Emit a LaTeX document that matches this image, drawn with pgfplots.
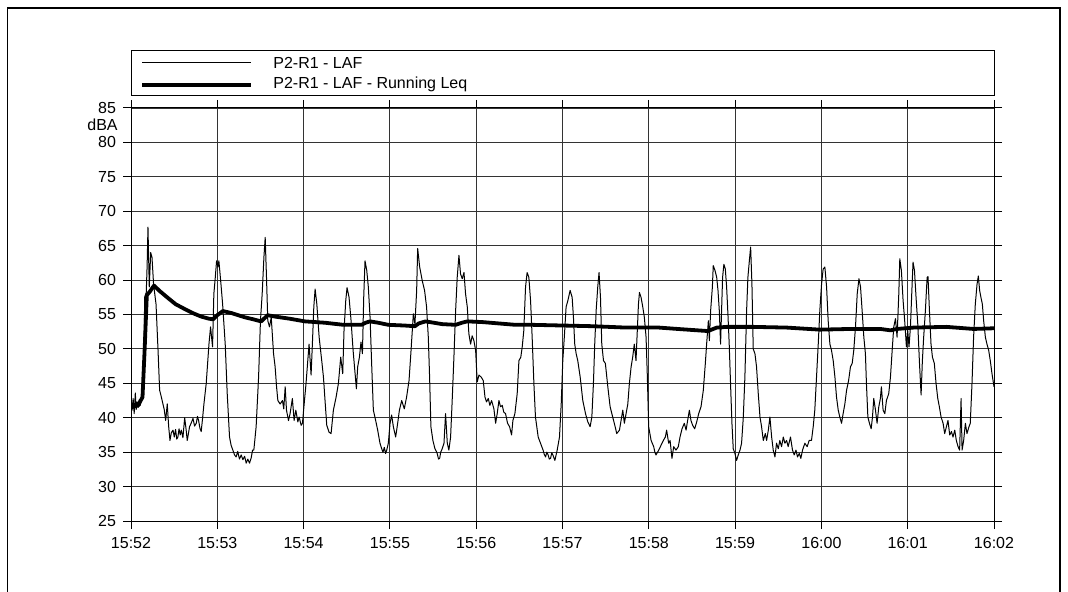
\documentclass[border=0pt]{standalone}
\usepackage{fontspec}
\setmainfont{Liberation Sans}
\usepackage{pgfplots}
\pgfplotsset{compat=1.18}
\usepackage{pgfplotstable}

\pgfplotstableread{
t v
0 41.0
0.7 41.1
1.5 42.8
2.2 40.6
3 43.6
3.6 41.2
4.3 42.3
5 41.5
5.7 42.6
6.4 41.8
7.2 43.0
8.3 43.7
9 48.5
9.5 57.5
10.6 58.2
11.2 62
11.8 67.7
12.7 59
13.7 64
14.6 63.3
15.7 59.4
17.4 56.5
18.8 49.8
19.9 44
21 43.1
22.2 42
23.1 41.2
24.1 39.6
25.2 42
26.2 38.7
27.1 36.7
28 37.8
29.2 38.2
30.1 37.2
31 38.3
31.8 36.9
32.6 37.2
33.4 38.4
34.2 37.5
35 38.2
36.1 37.1
37.3 40
38.2 38.5
39.1 36.7
40 37.8
40.7 38.7
41.8 39.2
43.1 39.9
44.2 38.8
45.4 39.2
46.2 40.2
47 39.6
47.9 38.5
48.8 38
49.8 40
50.7 42
52.3 45
54.2 50.7
55.3 53.2
56.7 50.3
57.6 58
58.6 60.4
59.5 62.8
60.4 61.9
61.1 62.8
62.3 60
63.7 56.5
65.5 50.7
66.9 43.5
68.5 37.2
69.6 36.0
70.8 35.3
72 34.6
73.1 34.3
74.2 35.1
75.4 34.0
76.6 34.6
77.8 33.9
79 34.4
80.1 33.4
81.2 34.0
82.4 33.4
83.6 34.2
84.5 35.3
85.4 35.3
87 38.7
88.7 45.9
90 54.1
91.2 58
92.4 63.3
93.3 66.2
94.2 60.4
95.1 54.1
96.3 53.2
97.5 54.6
99.1 49.3
100.2 47.4
101.2 44.5
102.1 42.5
103.7 42
105.3 42.5
106.2 41.3
107.2 44.5
108.1 41.1
109.5 39.6
110.6 40.6
112.2 42.8
113.4 39.6
114.6 41.1
116 39.4
116.9 40.1
118.3 38.9
119.2 39.2
120.6 42.5
121.7 45
122.9 48.3
123.8 50.7
125.2 46.2
126.1 50.7
127.1 56.1
128 58.7
129.2 56.5
130.8 51.7
132.6 48.3
133.8 45.9
134.9 42.5
136.1 38.9
137.7 37.9
139.1 37.7
140.7 41.1
142.6 43
144.2 45
145.8 48.8
147.2 46.4
148.1 52.7
149.3 57
150.2 58.9
151.6 57.5
153 54.1
154.4 49.8
155.8 46.4
156.7 44.2
157.6 47.4
158.8 48.8
159.9 51
160.9 49.3
161.8 57.5
162.7 62.8
163.9 61.4
165 59
166.2 54.6
167.3 47.9
168.5 41.1
170.1 39.6
171.5 38.2
173.1 36.3
174.3 35.5
175.2 35.0
176.1 35.7
177 34.8
177.8 35.3
178.9 36.3
180.1 39.2
181.2 40.4
182.4 38.7
184 37.2
185.4 39.2
186.6 41.1
188.2 42.5
190 41.3
191.6 43
193.3 45.4
194.7 49.8
196.3 55.1
197.4 53.6
198.6 58.5
199.3 64.6
200.7 61.9
202.5 59.9
204.1 58.5
205.5 56.1
206.7 51.7
207.6 45.9
208.5 38.7
209.9 36.7
211.3 35.5
212.1 35.2
212.9 34.8
213.8 34.0
214.6 34.1
215.3 35.0
216 35.3
217.6 36.3
218.7 40.6
219.9 36.3
221 35.3
222.2 37.2
223.4 43
224.5 48.8
225.7 55.6
226.8 60.4
228 63.6
229.1 60.9
230.3 60.2
231.5 61.1
232.6 58
233.8 56.1
234.9 52.2
236.1 50.7
237.2 51.9
238.4 51.2
239.6 49.8
240.7 45.2
241.9 46.2
243.5 45.9
244.9 45.4
246.1 43
247.2 42.3
248.4 42.8
249.5 41.8
250.7 42.5
252.3 41.3
253.5 39.2
254.6 40.6
255.8 42.5
256.9 41.6
258.1 41.8
259.2 40.8
260.4 40.6
261.8 39.2
263.2 38.7
264.6 37.5
265.5 39.6
266.9 40.6
268.5 43.5
269.7 48.3
271 48.8
272 50.3
273.1 52.7
274.3 59
275.4 61.1
276.6 60.4
277.8 57
278.9 51.7
280.1 45
281.2 40.1
283.1 37.2
284.7 36.3
286.5 35.3
287.3 34.7
288.2 34.3
289.1 35.0
290 34.6
290.8 34.0
291.7 34.1
292.5 34.9
293.3 34.6
294.7 33.8
296.3 35.3
297.9 37.2
299.1 42
300.2 48.3
301.4 52.2
302.5 56.1
303.7 57
305.3 58.5
306.7 57.5
307.6 54.6
308.5 50.7
309.5 49.3
310.6 48.3
312.3 45.9
314.1 42.5
316 40.6
317.6 39.4
319.2 38.7
320.4 40.1
321.5 45
322.4 50.7
323.4 55.6
324.5 59
325.4 61.1
326.4 57.5
327.3 50.7
328.5 48.3
329.8 47.9
331.5 44.5
333.1 41.6
334.9 40.1
336.6 38.7
337.7 37.7
339.6 38.2
340.7 39.6
341.9 41.1
343 39.2
344.2 40.6
345.4 42
346.5 45
347.7 47.4
348.8 48.8
349.9 50.7
351.1 48.3
351.8 51.7
352.8 56.5
353.5 58.2
354.6 57.5
355.8 56.1
356.9 54.6
358.1 51.7
359 45.9
359.9 38.7
361.6 36.7
363.4 35.8
364.2 35.0
365 34.6
366.9 35.3
368.5 36
370.1 36.7
371.5 37.2
372.4 38.2
373.8 36.3
374.8 36.7
376.1 34.1
377.3 35.8
378.9 35.3
380.5 35.8
381.7 37.2
383.1 38.4
384.7 39.2
385.9 38.2
387 39.6
388.2 41.1
389.3 39.6
390.5 38.9
391.9 38.4
393.3 39.4
394.7 40.6
396.3 41.6
397.9 44
399.3 47.9
400.2 50.7
401.4 54.1
402.1 51.2
403 55.6
404.2 59
404.8 62.1
406 61.4
407.2 60.4
408.1 58.5
409 55.6
409.9 50.7
410.6 55.6
411.3 60.4
412.2 62.3
413.2 61.6
414.1 59
415 55.1
415.9 50.7
416.9 44.5
417.8 39.2
418.7 35.5
419.9 34.8
421 33.8
422.2 34.6
423.4 35.3
424.5 36.3
425.7 40.1
426.8 45.9
428 55.6
428.9 60.4
429.9 62.8
430.8 64.8
431.7 59.4
432.6 50
433.8 49.3
434.9 47.4
436.1 43.5
437.3 40.1
438.4 38.7
439.6 36.7
441 37.7
441.9 36.7
443.1 38.2
444.2 40.1
445.4 37.2
446.5 35.3
447.7 34.3
448.8 36.3
450 35.5
451.1 36.7
452.3 35.8
453.5 37.2
454.6 36.3
455.8 36.7
456.9 35.8
458.5 37.2
459.9 35.3
461.1 34.6
462.3 35.3
463.4 34.3
464.6 34.8
465.7 34.1
466.9 35.3
468.5 36.3
470.1 35.8
471.5 36.7
473.1 36.7
474.3 38.7
475.4 41.1
476.6 45.9
477.8 50.7
478.9 55.6
480.1 59.4
481.2 61.6
482.4 61.9
483.6 59
484.7 54.1
485.9 50.7
487 49.8
488.2 48.3
489.4 45.9
490.5 43
491.7 41.1
492.8 40.1
494 39.2
495.1 40.6
496.3 42
497.5 44
498.9 45.4
500.2 47.4
501.4 47.9
502.5 49.8
503.7 53.2
504.9 58
506.1 60.2
507.2 59
508.3 55.6
509.5 51.7
510.6 49.3
511.3 45
512.3 40.1
513.4 39.2
514.6 38.4
515.5 40.1
516.4 42.8
517.6 41.1
518.7 39.2
519.9 41.6
521 42.8
521.7 44.5
522.9 41.1
524.1 40.6
525.2 42.5
526.8 43.5
528 45.9
529.2 49.8
530.3 53.2
531.5 54.4
532.6 51.7
533.8 58
534.5 63.1
535.6 61.4
536.8 57
537.9 54.1
539.1 50.3
540 52.7
540.9 50.3
541.9 53.2
542.8 58
543.7 62.6
544.7 61.4
545.8 57.5
547 53.6
548.1 48.3
549.3 43.3
550.2 48.3
551.1 51.7
552.3 55.6
553.5 60.4
554.1 60.5
555.1 55.6
556.2 50.7
557.2 48.8
558.5 47.9
559.7 45
560.9 42.8
562 41.6
563.2 40.1
564.6 39.2
565.7 37.7
566.9 38.7
568 39.6
569.2 37.5
570.4 38
571.5 37.2
572.7 38.2
573.8 36.7
575 35.8
576.1 35.3
577.1 42.8
577.8 35.3
578.9 36.7
580.1 39.2
581.2 37.7
582.6 38.7
583.5 39.2
584.7 45
585.8 51.7
587 56.5
588.2 59.4
589.1 60.6
590 58.5
590.9 57.5
591.9 56.5
592.8 54.1
594 51.7
595.1 50.7
596.3 49.8
597.4 48.3
598.6 46.4
600 44.5
}\laf

\pgfplotstableread{
t v
0 41.5
5 41.8
8 43
9.5 50
11 57.8
13 58.3
16 59.2
20 58.4
25.7 57.4
31 56.5
37.3 55.8
43 55.2
48.8 54.7
54 54.4
57 54.3
60 54.9
63.9 55.5
70 55.2
79 54.6
85 54.3
90.5 54.0
93 54.5
95 54.9
100 54.7
110 54.4
121 54.0
135 53.8
147.7 53.5
160.4 53.5
163 53.8
166.2 54.0
172 53.8
178.9 53.5
190 53.4
197.4 53.3
200 53.7
204.8 54.0
216.4 53.6
225.7 53.5
230 53.8
233.8 54.0
244.2 53.9
267.3 53.5
278.9 53.5
300 53.4
321 53.3
344 53.1
367 53.1
380 52.9
400.7 52.6
402.5 52.7
407.2 53.1
414.1 53.2
428 53.2
432.6 53.2
455.8 53.1
478.9 52.8
500 52.9
521 52.9
528 52.7
532.6 52.9
544 53.1
567 53.2
585.8 52.9
600 53.0
}\leq

\begin{document}
\begin{tikzpicture}
\useasboundingbox (0,0) rectangle (534pt,-296pt);
\fill[white] (0,0) rectangle (534pt,-296pt);
\begin{scope}[x=0.5pt,y=-0.5pt]
  % outer frame
  \draw[line width=0.7pt] (7.5,700) -- (7.5,8) -- (1060,8) -- (1060,700);
  % legend
  \draw[line width=0.5pt] (131,51) rectangle (994,96);
  \draw[line width=0.5pt] (142,63) -- (251,63);
  \draw[line width=1.7pt] (142,85) -- (251,85);
  \node[anchor=west,inner sep=0pt,font=\fontsize{8}{9}\selectfont] at (273,62.5) {P2-R1 - LAF};
  \node[anchor=west,inner sep=0pt,font=\fontsize{8}{9}\selectfont] at (273,84.5) {P2-R1 - LAF - Running Leq};
  \node[anchor=east,inner sep=0pt,font=\fontsize{8}{9}\selectfont] at (118,125) {dBA};
\end{scope}
\begin{axis}[
  at={(65.5pt,-260.5pt)}, anchor=south west,
  scale only axis, width=431.5pt, height=206.5pt,
  xmin=0, xmax=600, ymin=25, ymax=85,
  xtick={0,60,...,600},
  xticklabels={15:52,15:53,15:54,15:55,15:56,15:57,15:58,15:59,16:00,16:01,16:02},
  ytick={25,30,...,85},
  grid=major,
  grid style={black!80, line width=0.45pt},
  axis line style={black, line width=0.5pt},
  tick align=outside,
  major tick length=4pt,
  tick style={black, line width=0.5pt},
  tick label style={font=\fontsize{8}{9}\selectfont},
  /pgf/number format/assume math mode=true,
  xticklabel style={yshift=-0.5pt},
  yticklabel style={xshift=0pt},
  clip=true,
]
\addplot[black, line width=0.5pt, line join=round] table[x=t,y=v] {\laf};
\addplot[black, line width=1.9pt, line join=round, line cap=round] table[x=t,y=v] {\leq};
\end{axis}
\end{tikzpicture}
\end{document}
